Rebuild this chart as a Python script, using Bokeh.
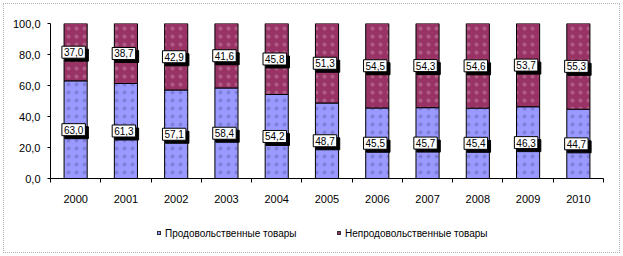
from bokeh.plotting import figure
from bokeh.models import ColumnDataSource, FixedTicker, Label, Range1d, Div
from bokeh.layouts import column
from bokeh.embed import file_html
from bokeh.resources import INLINE

years = ["2000", "2001", "2002", "2003", "2004", "2005", "2006", "2007", "2008", "2009", "2010"]
food = [63.0, 61.3, 57.1, 58.4, 54.2, 48.7, 45.5, 45.7, 45.4, 46.3, 44.7]
nonfood = [37.0, 38.7, 42.9, 41.6, 45.8, 51.3, 54.5, 54.3, 54.6, 53.7, 55.3]
series_names = ["Продовольственные товары", "Непродовольственные товары"]
series_colors = ["#9999FF", "#993366"]
y_ticks = [0, 20, 40, 60, 80, 100]
y_tick_labels = ["0,0", "20,0", "40,0", "60,0", "80,0", "100,0"]

FONT = "Liberation Sans"
x = list(range(len(years)))

def fmt(v):
    return ("%.1f" % v).replace(".", ",")

src = ColumnDataSource(dict(x=x, food=food, nonfood=nonfood))

p = figure(width=623, height=212, output_backend="svg", toolbar_location=None,
           x_range=Range1d(-0.5, len(years) - 0.5), y_range=Range1d(0, 100),
           min_border_left=50, min_border_right=20, min_border_top=23, min_border_bottom=34)
p.outline_line_color = None
p.xgrid.visible = False
p.ygrid.visible = False
p.background_fill_color = None
p.border_fill_color = None

renderers = p.vbar_stack(["food", "nonfood"], x="x", width=0.46, source=src,
                         color=series_colors,
                         hatch_pattern=".", hatch_scale=8, hatch_weight=0.3,
                         hatch_color=["#6060b0", "#c890a8"], hatch_alpha=0.45)
for r in renderers:
    r.glyph.line_color = "black"
    r.glyph.line_width = 1

# x axis
xa = p.xaxis[0]
xa.ticker = FixedTicker(ticks=x, minor_ticks=[i - 0.5 for i in range(len(years) + 1)])
xa.major_label_overrides = {i: y for i, y in zip(x, years)}
xa.major_tick_out = 0
xa.major_tick_in = 0
xa.minor_tick_out = 4
xa.minor_tick_in = 0
xa.minor_tick_line_color = "black"
xa.axis_line_color = "black"
xa.major_label_standoff = 12
xa.major_label_text_font = FONT
xa.major_label_text_font_size = "11px"
xa.major_label_text_color = "black"

ya = p.yaxis[0]
ya.ticker = FixedTicker(ticks=y_ticks, minor_ticks=[])
ya.major_label_overrides = {t: l for t, l in zip(y_ticks, y_tick_labels)}
ya.major_tick_out = 3
ya.major_tick_in = 0
ya.major_tick_line_color = "black"
ya.axis_line_color = "black"
ya.major_label_standoff = 7
ya.major_label_text_font = FONT
ya.major_label_text_font_size = "11px"
ya.major_label_text_color = "black"

# data labels with shadow
for i in x:
    for yv, val in [(food[i] / 2, food[i]), (food[i] + nonfood[i] / 2, nonfood[i])]:
        shadow = Label(x=i, y=yv, text=fmt(val), text_align="center",
                       text_baseline="middle", x_offset=1, y_offset=-3,
                       text_font=FONT, text_font_size="10px", text_color="black",
                       background_fill_color="black", border_line_color="black",
                       padding=2)
        main = Label(x=i, y=yv, text=fmt(val), text_align="center",
                     text_baseline="middle", x_offset=-2, y_offset=0,
                     text_font=FONT, text_font_size="10px", text_color="black",
                     background_fill_color="white", border_line_color="black",
                     border_line_width=1, padding=2)
        p.add_layout(shadow)
        p.add_layout(main)

# legend (HTML, below the chart)
legend_x = [157, 337]
items = ""
for name, col, lx in zip(series_names, series_colors, legend_x):
    items += (f'<span style="position:absolute;left:{lx}px;top:19px;width:4px;height:4px;'
              f'background:{col};border:1px solid #333;"></span>'
              f'<span style="position:absolute;left:{lx + 8}px;top:16px;line-height:12px;'
              f'white-space:nowrap;">{name}</span>')
div = Div(text=f'<div style="position:relative;width:623px;height:44px;font-family:\'{FONT}\';'
               f'font-size:10px;color:#000;">{items}</div>',
          width=623, height=44, margin=0, styles={"padding": "0", "margin": "0"})

layout = column(p, div, spacing=0, width=623, height=256,
                styles={"outline": "1px dotted #b0b0b0", "outline-offset": "-4px",
                        "background": "white"})

open("out.html", "w").write(file_html(layout, INLINE))
